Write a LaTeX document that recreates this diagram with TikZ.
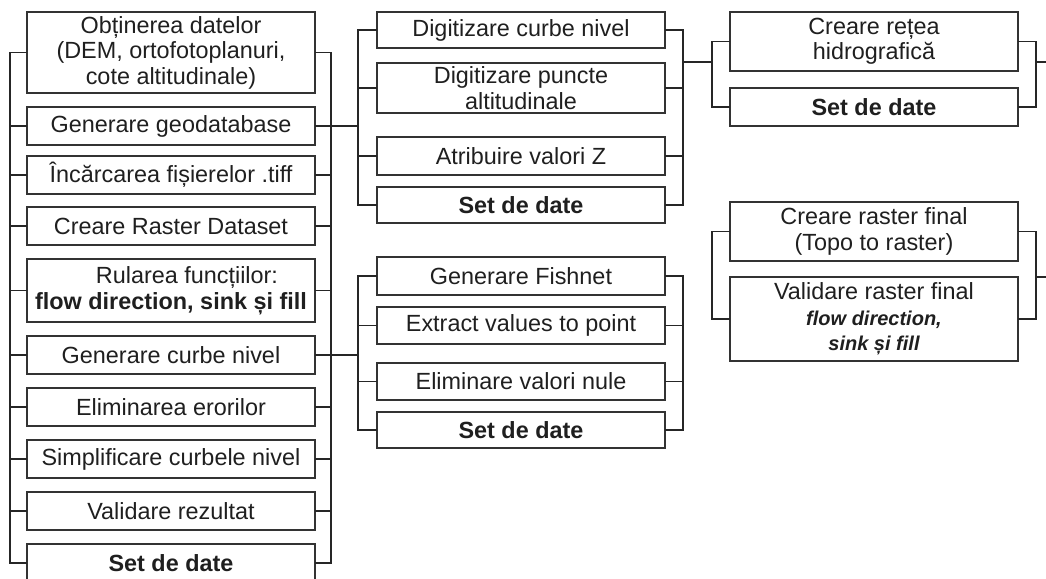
\documentclass[tikz,border=0pt]{standalone}
\usepackage{fontspec}
\setmainfont{Liberation Sans}
\usetikzlibrary{positioning}

\newcommand{\boldit}[1]{{\fontsize{20}{24}\selectfont\bfseries\itshape #1}}

\begin{document}
\begin{tikzpicture}[x=1pt, y=-1pt, node distance=14pt]
  \tikzstyle{box}=[draw=black!80, line width=1.4pt, outer sep=0pt, align=center, minimum width=288pt, minimum height=38pt, inner sep=2pt, text=black!88, font=\fontsize{23.4}{25.5}\selectfont]
  \tikzstyle{link}=[line width=1.5pt, black!85]
  \useasboundingbox (0,0) rectangle (1046,578);

  % left column
  \node[box, minimum height=81pt] (l1) at (171,52.5) {Obținerea datelor\\(DEM, ortofotoplanuri,\\cote altitudinale)};
  \node[box, below=of l1] (l2) {Generare geodatabase};
  \node[box, below=11pt of l2] (l3) {Încărcarea fișierelor .tiff};
  \node[box, below=13pt of l3] (l4) {Creare Raster Dataset};
  \node[box, below=of l4, minimum height=63pt] (l5) {\hspace*{32pt}Rularea funcțiilor:\\\textbf{flow direction, sink și fill}};
  \node[box, below=of l5] (l6) {Generare curbe nivel};
  \node[box, below=of l6] (l7) {Eliminarea erorilor};
  \node[box, below=of l7] (l8) {Simplificare curbele nivel};
  \node[box, below=of l8] (l9) {Validare rezultat};
  \node[box, below=of l9] (l10) {\textbf{Set de date}};

  % middle column
  \node[box, minimum height=36pt] (m1) at (521,30) {Digitizare curbe nivel};
  \node[box, below=15pt of m1, minimum height=50pt] (m2) {Digitizare puncte\\altitudinale};
  \node[box, below=24pt of m2] (m3) {Atribuire valori Z};
  \node[box, below=12pt of m3, minimum height=36pt] (m4) {\textbf{Set de date}};

  \node[box] (n1) at (521,276) {Generare Fishnet};
  \node[box, below=12pt of n1, minimum height=37pt] (n2) {Extract values to point};
  \node[box, below=19pt of n2, minimum height=37pt] (n3) {Eliminare valori nule};
  \node[box, below=12pt of n3, minimum height=36pt] (n4) {\textbf{Set de date}};

  % right column
  \node[box, minimum height=59pt] (r1) at (874,41.5) {Creare rețea\\hidrografică};
  \node[box, below=17pt of r1] (r2) {\textbf{Set de date}};
  \node[box, minimum height=59pt] (s1) at (874,231.5) {Creare raster final\\(Topo to raster)};
  \node[box, below=16pt of s1, minimum height=84pt] (s2) {Validare raster final\\\boldit{flow direction,}\\\boldit{sink și fill}};

  % bus lines
  \coordinate (lbusW) at (10,0);
  \coordinate (lbusE) at (331,0);
  \coordinate (mbusW) at (358,0);
  \coordinate (mbusE) at (683,0);
  \coordinate (rbusW) at (712,0);
  \coordinate (rbusE) at (1036,0);
  \coordinate (jA) at (712,62);
  \coordinate (outA) at (1046,62);
  \coordinate (outB) at (1046,277);

  \draw[link] (l1.west) -| (lbusW |- l10.west) -- (l10.west);
  \draw[link] (l1.east) -| (lbusE |- l10.east) -- (l10.east);
  \draw[link] (l2.west) -- (l2.west -| lbusW) (l2.east) -- (l2.east -| lbusE);
  \draw[link] (l3.west) -- (l3.west -| lbusW) (l3.east) -- (l3.east -| lbusE);
  \draw[link] (l4.west) -- (l4.west -| lbusW) (l4.east) -- (l4.east -| lbusE);
  \draw[link] (l5.west) -- (l5.west -| lbusW) (l5.east) -- (l5.east -| lbusE);
  \draw[link] (l6.west) -- (l6.west -| lbusW) (l6.east) -- (l6.east -| lbusE);
  \draw[link] (l7.west) -- (l7.west -| lbusW) (l7.east) -- (l7.east -| lbusE);
  \draw[link] (l8.west) -- (l8.west -| lbusW) (l8.east) -- (l8.east -| lbusE);
  \draw[link] (l9.west) -- (l9.west -| lbusW) (l9.east) -- (l9.east -| lbusE);

  \draw[link] (l2.east) -- (l2.east -| mbusW);
  \draw[link] (l6.east) -- (l6.east -| mbusW);

  \draw[link] (m1.west) -| (mbusW |- m4.west) -- (m4.west);
  \draw[link] (m1.east) -| (mbusE |- m4.east) -- (m4.east);
  \draw[link] (m2.west) -- (m2.west -| mbusW) (m2.east) -- (m2.east -| mbusE);
  \draw[link] (m3.west) -- (m3.west -| mbusW) (m3.east) -- (m3.east -| mbusE);

  \draw[link] (n1.west) -| (mbusW |- n4.west) -- (n4.west);
  \draw[link] (n1.east) -| (mbusE |- n4.east) -- (n4.east);
  \draw[link] (n2.west) -- (n2.west -| mbusW) (n2.east) -- (n2.east -| mbusE);
  \draw[link] (n3.west) -- (n3.west -| mbusW) (n3.east) -- (n3.east -| mbusE);

  \draw[link] (jA -| mbusE) -- (jA);

  \draw[link] (r1.west) -| (rbusW |- r2.west) -- (r2.west);
  \draw[link] (r1.east) -| (rbusE |- r2.east) -- (r2.east);
  \draw[link] (s1.west) -| (rbusW |- s2.west) -- (s2.west);
  \draw[link] (s1.east) -| (rbusE |- s2.east) -- (s2.east);

  \draw[link] (outA -| rbusE) -- (outA);
  \draw[link] (outB -| rbusE) -- (outB);
\end{tikzpicture}
\end{document}
